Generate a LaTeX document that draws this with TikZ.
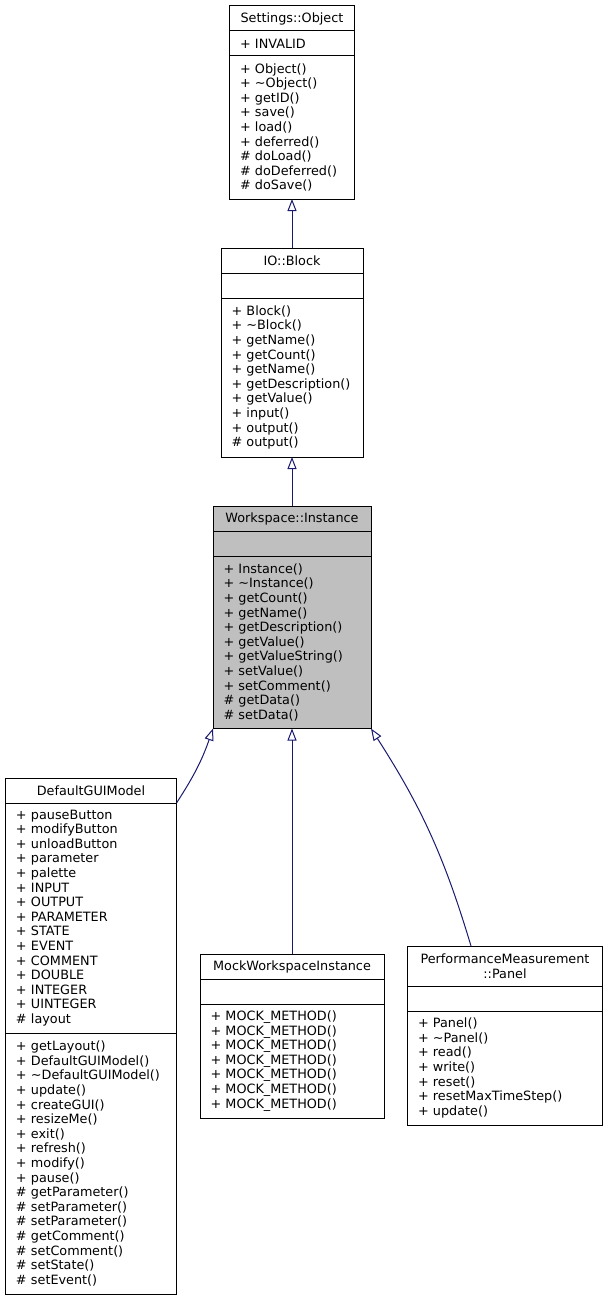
\documentclass[tikz,border=0pt]{standalone}
\usepackage{fontspec}
\setmainfont{DejaVu Sans}
\usetikzlibrary{arrows.meta,positioning}
\definecolor{edgeblue}{HTML}{191970}
\definecolor{boxgray}{HTML}{BFBFBF}
\tikzset{
  part/.style={draw=black,line width=1pt,outer sep=0pt,minimum width=#1,text width=#1-21pt,
    inner xsep=10.5pt,inner ysep=0pt,align=left,font=\fontsize{12.8}{14.6}\selectfont},
  classname/.style={part=#1,align=center,minimum height=25pt},
  emptypart/.style={part=#1,minimum height=25pt},
  inherit/.style={draw=edgeblue,line width=1pt,-{Triangle[open,length=12pt,width=9pt]}}
}

\begin{document}
\begin{tikzpicture}[x=1pt,y=-1pt]
  \useasboundingbox (0,0) rectangle (608,1300);
  % base classes
  \node[classname=125,anchor=north] (object) at (292,6) {Settings::Object};
  \node[emptypart=125,below=0pt of object] (object-a) {+ INVALID};
  \node[part=125,minimum height=143,below=0pt of object-a] (object-m)
    {+ Object()\\+ \textasciitilde Object()\\+ getID()\\+ save()\\+ load()\\+ deferred()\\\# doLoad()\\\# doDeferred()\\\# doSave()};

  \node[classname=142,anchor=north] (block) at (292,248) {IO::Block};
  \node[emptypart=142,below=0pt of block] (block-a) {};
  \node[part=142,minimum height=159,below=0pt of block-a] (block-m)
    {+ Block()\\+ \textasciitilde Block()\\+ getName()\\+ getCount()\\+ getName()\\+ getDescription()\\+ getValue()\\+ input()\\+ output()\\\# output()};

  \node[classname=158,fill=boxgray,anchor=north] (instance) at (292,506) {Workspace::Instance};
  \node[emptypart=158,fill=boxgray,below=0pt of instance] (instance-a) {};
  \node[part=158,fill=boxgray,minimum height=172.5,below=0pt of instance-a] (instance-m)
    {+ Instance()\\+ \textasciitilde Instance()\\+ getCount()\\+ getName()\\+ getDescription()\\+ getValue()\\+ getValueString()\\+ setValue()\\+ setComment()\\\# getData()\\\# setData()};

  % derived classes
  \node[classname=171,anchor=north] (gui) at (91,778) {DefaultGUIModel};
  \node[part=171,minimum height=230,below=0pt of gui] (gui-a)
    {+ pauseButton\\+ modifyButton\\+ unloadButton\\+ parameter\\+ palette\\+ INPUT\\+ OUTPUT\\+ PARAMETER\\+ STATE\\+ EVENT\\+ COMMENT\\+ DOUBLE\\+ INTEGER\\+ UINTEGER\\\# layout};
  \node[part=171,minimum height=261,below=0pt of gui-a] (gui-m)
    {+ getLayout()\\+ DefaultGUIModel()\\+ \textasciitilde DefaultGUIModel()\\+ update()\\+ createGUI()\\+ resizeMe()\\+ exit()\\+ refresh()\\+ modify()\\+ pause()\\\# getParameter()\\\# setParameter()\\\# setParameter()\\\# getComment()\\\# setComment()\\\# setState()\\\# setEvent()};

  \node[classname=184,anchor=north] (mock) at (292,954) {MockWorkspaceInstance};
  \node[emptypart=184,below=0pt of mock] (mock-a) {};
  \node[part=184,minimum height=114,below=0pt of mock-a] (mock-m)
    {+ MOCK\_METHOD()\\+ MOCK\_METHOD()\\+ MOCK\_METHOD()\\+ MOCK\_METHOD()\\+ MOCK\_METHOD()\\+ MOCK\_METHOD()\\+ MOCK\_METHOD()};

  \node[classname=195,minimum height=40,anchor=north] (panel) at (505,946) {PerformanceMeasurement\\::Panel};
  \node[emptypart=195,below=0pt of panel] (panel-a) {};
  \node[part=195,minimum height=114,below=0pt of panel-a] (panel-m)
    {+ Panel()\\+ \textasciitilde Panel()\\+ read()\\+ write()\\+ reset()\\+ resetMaxTimeStep()\\+ update()};

  % inheritance
  \draw[inherit] (block.north) -- (object-m.south);
  \draw[inherit] (instance.north) -- (block-m.south);
  \draw[inherit] (mock.north) -- (instance-m.south);
  \draw[inherit] (gui.south east) to[bend right=7] (instance-m.south west);
  \draw[inherit] ([xshift=-34pt]panel.north) to[bend right=8] (instance-m.south east);
\end{tikzpicture}
\end{document}
